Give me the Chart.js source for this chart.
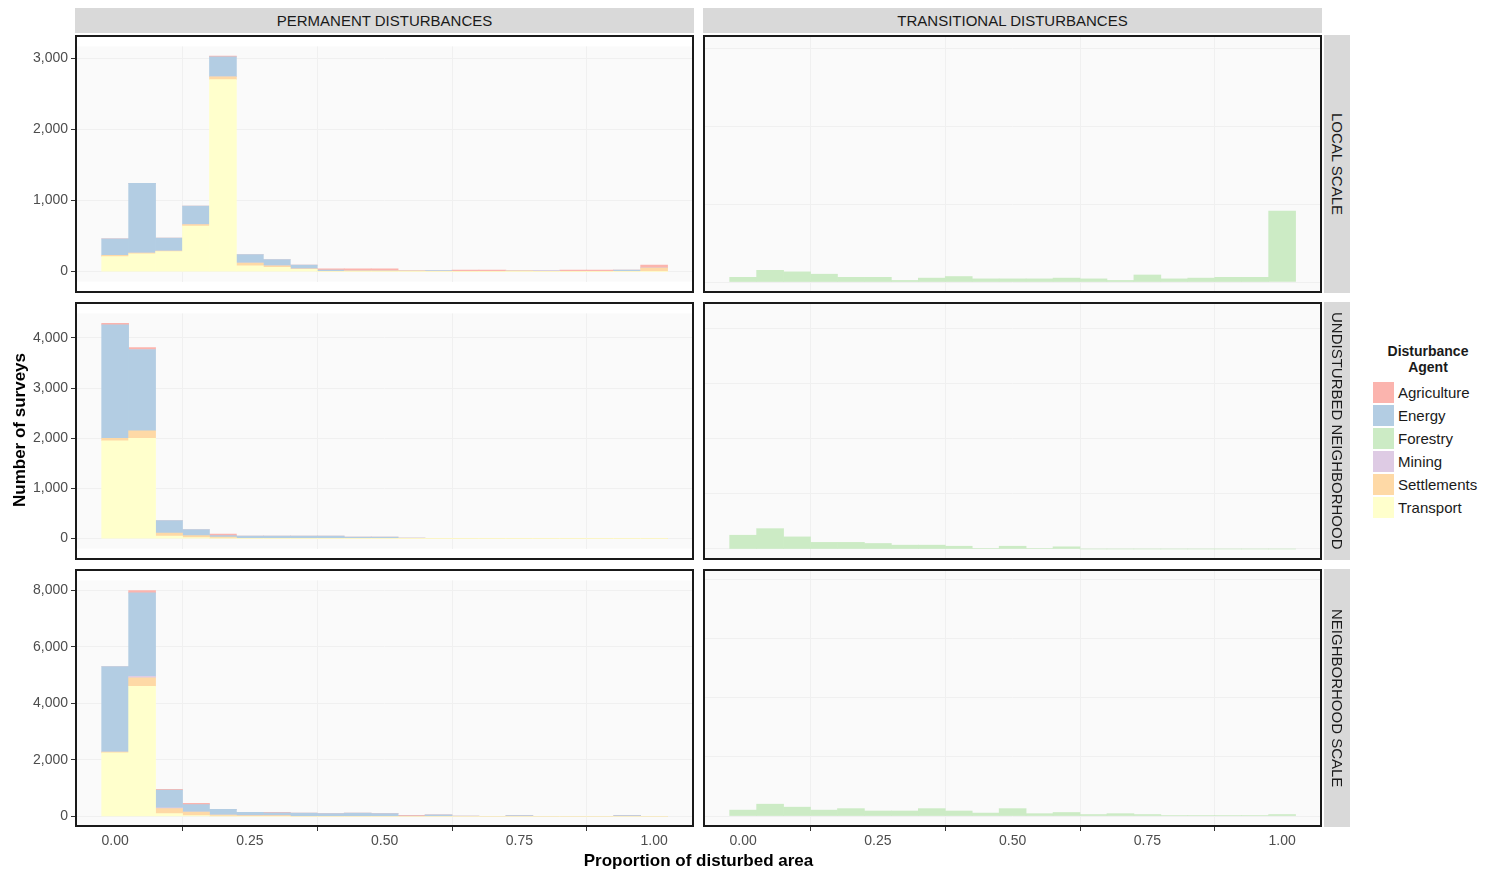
<!DOCTYPE html>
<html><head><meta charset="utf-8">
<script src="https://cdn.jsdelivr.net/npm/chart.js@4"></script>
<style>
body{margin:0;background:#fff;font-family:"Liberation Sans",Arial,sans-serif;width:1500px;height:879px;position:relative;overflow:hidden}
canvas,.box,.strip,.lab{position:absolute}
.box{border:2px solid #1a1a1a;box-sizing:border-box;pointer-events:none}
.strip{background:#d9d9d9;color:#1a1a1a;font-size:15px;display:flex;align-items:center;justify-content:center}
.vstrip{writing-mode:vertical-rl}
.lab{color:#000;font-weight:bold;font-size:17px}
.leg{position:absolute;left:1373px;top:343px;font-size:15px;color:#1a1a1a}
.leg .t{font-weight:bold;font-size:14px;text-align:center;width:110px;margin-bottom:6px;line-height:16px}
.leg .r{display:flex;align-items:center;height:23px}
.leg .k{width:21px;height:21px;margin-right:4px}
</style></head><body>
<script>
// bin centres of the histogram
var bins = [0,0.05,0.1,0.15,0.2,0.25,0.3,0.35,0.4,0.45,0.5,0.55,0.6,0.65,0.7,0.75,0.8,0.85,0.9,0.95,1];
var agents = ['Transport','Settlements','Mining','Forestry','Energy','Agriculture'];
var colors = {Agriculture:'#FBB4AE',Energy:'#B3CDE3',Forestry:'#CCEBC5',Mining:'#DECBE4',Settlements:'#FED9A6',Transport:'#FFFFCC'};

// local scale, permanent
var locPermTransport = [210,250,280,640,2700,80,60,30,0,0,0,0,0,0,0,0,0,0,0,0,0];
var locPermSettle    = [20,10,10,20,40,40,20,10,0,10,10,10,0,0,0,10,0,0,0,0,50];
var locPermMining    = [0,0,0,0,0,0,0,0,0,0,0,0,0,0,0,0,10,0,0,0,0];
var locPermEnergy    = [230,980,180,260,280,120,90,50,20,0,0,0,15,0,0,0,0,0,0,20,0];
var locPermAgri      = [0,0,0,0,10,0,0,0,20,30,30,0,0,20,20,0,0,20,20,0,40];
// local scale, transitional
var locTransForestry = [60,150,130,100,60,60,20,50,70,40,40,40,50,40,20,90,40,50,60,60,910];

// undisturbed neighborhood, permanent
var undPermTransport = [1950,2000,50,20,10,0,0,0,0,0,0,0,0,0,0,0,0,0,0,0,0];
var undPermSettle    = [50,150,60,40,20,0,0,0,0,0,0,0,0,0,0,0,0,0,0,0,0];
var undPermEnergy    = [2260,1620,250,120,30,50,50,50,50,30,30,10,0,0,0,0,0,0,0,0,0];
var undPermAgri      = [30,40,0,0,30,0,0,0,0,0,0,0,0,0,0,0,0,0,0,0,0];
// undisturbed neighborhood, transitional
var undTransForestry = [250,370,220,120,120,100,70,70,50,10,50,10,40,0,0,0,0,0,0,0,0];

// neighborhood scale, permanent
var nbhPermTransport = [2250,4600,100,30,20,0,0,0,0,0,0,0,0,0,0,0,0,0,0,0,0];
var nbhPermSettle    = [30,300,180,130,30,30,30,0,0,0,0,0,0,0,0,0,0,0,0,0,0];
var nbhPermMining    = [0,50,30,0,0,0,0,0,0,0,0,0,0,0,0,0,0,0,0,0,0];
var nbhPermEnergy    = [3020,2950,620,260,200,120,100,120,100,120,100,20,60,20,0,30,0,0,0,30,0];
var nbhPermAgri      = [0,80,30,50,0,0,20,0,0,0,0,20,0,0,0,0,0,0,0,0,0];
// neighborhood scale, transitional
var nbhTransForestry = [200,400,300,200,250,170,170,250,170,100,250,80,120,50,80,50,20,20,20,20,50];

var xTicks = [0,0.25,0.5,0.75,1];
var rows = [
  {top:35, ymin:-141, ymax:3167, step:1000,
   perm:{Transport:locPermTransport,Settlements:locPermSettle,Mining:locPermMining,Energy:locPermEnergy,Agriculture:locPermAgri},
   trans:{Forestry:locTransForestry}},
  {top:302, ymin:-200, ymax:4490, step:1000,
   perm:{Transport:undPermTransport,Settlements:undPermSettle,Energy:undPermEnergy,Agriculture:undPermAgri},
   trans:{Forestry:undTransForestry}},
  {top:569, ymin:-370, ymax:8340, step:2000,
   perm:{Transport:nbhPermTransport,Settlements:nbhPermSettle,Mining:nbhPermMining,Energy:nbhPermEnergy,Agriculture:nbhPermAgri},
   trans:{Forestry:nbhTransForestry}}
];
var cols = [{left:75,key:'perm',yLabels:true},{left:703,key:'trans',yLabels:false}];
var panelW = 619, panelH = 258;

function el(cls, css, txt){
  var d = document.createElement('div'); d.className = cls;
  Object.assign(d.style, css); if (txt) d.textContent = txt;
  document.body.appendChild(d); return d;
}

rows.forEach(function(row, ri){
  var bottom = ri == rows.length - 1;
  cols.forEach(function(col){
    var axisW = col.yLabels ? 75 : 0;
    var xH = bottom ? 32 : 0;
    var cv = document.createElement('canvas');
    cv.style.left = (col.left - axisW) + 'px'; cv.style.top = row.top + 'px';
    cv.style.width = (panelW + axisW) + 'px'; cv.style.height = (panelH + xH) + 'px';
    cv.width = panelW + axisW; cv.height = panelH + xH;
    document.body.appendChild(cv);
    var series = row[col.key];
    var datasets = agents.filter(function(a){ return series[a]; }).map(function(a){
      return {label:a, data:bins.map(function(b,i){ return {x:b, y:series[a][i]}; }),
        backgroundColor:colors[a], borderWidth:0, barPercentage:1, categoryPercentage:1};
    });
    new Chart(cv, {
      type:'bar',
      data:{datasets:datasets},
      options:{
        responsive:false, animation:false, events:[],
        layout:{padding:0},
        plugins:{legend:{display:false}, tooltip:{enabled:false}},
        scales:{
          x:{type:'linear', stacked:true, min:-0.0745, max:1.074, offset:false,
             grid:{color:'#f0f0f0', drawTicks:bottom, tickLength:4, tickColor:'#333'},
             border:{display:false},
             afterBuildTicks:function(s){ s.ticks = xTicks.map(function(v){ return {value:v}; }); },
             afterFit:function(s){ s.height = xH; },
             ticks:{display:bottom, color:'#4d4d4d', font:{size:14, family:'Liberation Sans'}, padding:2,
                    callback:function(v){ return v.toFixed(2); }}},
          y:{stacked:true, min:row.ymin, max:row.ymax,
             grid:{color:'#f0f0f0', drawTicks:col.yLabels, tickLength:4, tickColor:'#333'},
             border:{display:false},
             afterBuildTicks:function(s){ var t=[]; for (var v=0; v<=row.ymax; v+=row.step) t.push({value:v}); s.ticks=t; },
             afterFit:function(s){ s.width = axisW; },
             ticks:{display:col.yLabels, color:'#4d4d4d', font:{size:14, family:'Liberation Sans'}, padding:3}}
        }
      },
      plugins:[{id:'bg', beforeDraw:function(c){
        var a = c.chartArea, g = c.ctx; g.save(); g.fillStyle = '#fafafa';
        g.fillRect(a.left, a.top, a.width, a.height); g.restore(); }}]
    });
    el('box', {left:col.left+'px', top:row.top+'px', width:panelW+'px', height:panelH+'px'});
  });
});

el('strip', {left:'75px', top:'8px', width:'619px', height:'25px'}, 'PERMANENT DISTURBANCES');
el('strip', {left:'703px', top:'8px', width:'619px', height:'25px'}, 'TRANSITIONAL DISTURBANCES');
['LOCAL SCALE','UNDISTURBED NEIGHBORHOOD','NEIGHBORHOOD SCALE'].forEach(function(t, i){
  el('strip vstrip', {left:'1324px', top:rows[i].top+'px', width:'26px', height:panelH+'px'}, t);
});
el('lab', {left:'75px', width:'1247px', top:'851px', textAlign:'center'}, 'Proportion of disturbed area');
var yl = el('lab', {left:'-80px', top:'420px', width:'200px', textAlign:'center', transform:'rotate(-90deg)'}, 'Number of surveys');

var leg = el('leg', {});
leg.innerHTML = '<div class="t">Disturbance<br>Agent</div>';
['Agriculture','Energy','Forestry','Mining','Settlements','Transport'].forEach(function(a){
  leg.innerHTML += '<div class="r"><div class="k" style="background:'+colors[a]+'"></div>'+a+'</div>';
});
</script>
</body></html>
